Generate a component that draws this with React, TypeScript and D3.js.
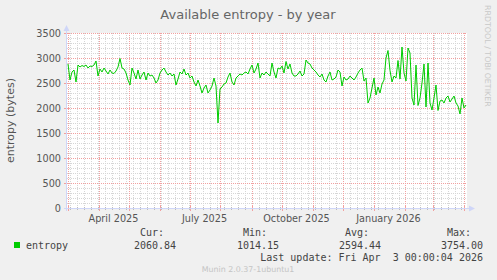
import React from "react";
import * as d3 from "d3";

const title = "Available entropy - by year";
const yAxisLabel = "entropy (bytes)";
const seriesName = "entropy";
const seriesStart = "2025-03-01T12:00:00Z";
const stepDays = 2;
const values = [
  2880, 2560, 2720, 2760, 2520, 2860, 2820, 2850, 2830, 2860,
  2800, 2840, 2830, 2860, 2940, 2640, 2780, 2720, 2800, 2740,
  2680, 2760, 2700, 2690, 2740, 2820, 2990, 2800, 2780, 2700,
  2560, 2460, 2800, 2700, 2580, 2760, 2580, 2660, 2720, 2560,
  2700, 2640, 2660, 2600, 2500, 2560, 2700, 2760, 2800, 2720,
  2660, 2700, 2640, 2680, 2460, 2580, 2720, 2680, 2780, 2660,
  2700, 2600, 2640, 2520, 2440, 2560, 2440, 2300, 2400, 2460,
  2300, 2360, 2440, 2600, 2440, 1700, 2380, 2420, 2480, 2500,
  2620, 2700, 2520, 2460, 2600, 2640, 2680, 2660, 2700, 2720,
  2680, 2780, 2860, 2700, 2780, 2900, 2600, 2700, 2660, 2720,
  2680, 2640, 2900, 2720, 2600, 2800, 2780, 2840, 2700, 2930,
  2780, 2880, 2700, 2640, 2640, 2680, 2740, 2640, 2680, 2960,
  2900, 2880, 2800, 2760, 2720, 2660, 2620, 2680, 2560, 2520,
  2640, 2720, 2560, 2580, 2620, 2760, 2720, 2440, 2620, 2560,
  2580, 2640, 2600, 2560, 2620, 2700, 2760, 2800, 2540, 2600,
  2100, 2200, 2400, 2600, 2260, 2420, 2300, 2480, 2560, 3000,
  3150, 2750, 2520, 2640, 2600, 2950, 2580, 3220, 2700, 2540,
  3200, 3100, 2200, 2060, 2860, 2050, 2200, 2500, 2880, 2020,
  2900, 2100, 1960, 2200, 2460, 1950, 2140, 2160, 2100, 2200,
  2240, 2120, 2180, 2240, 2100, 2040, 1880, 2200, 2000, 2060,
];
const domainStart = "2025-02-28T12:00:00Z";
const domainEnd = "2026-04-04T12:00:00Z";
const yTicks = [0, 500, 1000, 1500, 2000, 2500, 3000, 3500];
const yMax = 3500;
const xLabelMonths = ["2025-04-01", "2025-07-01", "2025-10-01", "2026-01-01"];
const xLabels = ["April 2025", "July 2025", "October 2025", "January 2026"];
const legendHeaders = ["Cur:", "Min:", "Avg:", "Max:"];
const legendValues = ["2060.84", "1014.15", "2594.44", "3754.00"];
const lastUpdate = "Last update: Fri Apr  3 00:00:04 2026";
const watermark = "Munin 2.0.37-1ubuntu1";
const sideText = "RRDTOOL / TOBI OETIKER";

const W = 497, H = 280;
const L = 67, R = 467, T = 33, B = 208;

export default function App() {
  const x = d3.scaleUtc().domain([new Date(domainStart), new Date(domainEnd)]).range([L, R]);
  const y = d3.scaleLinear().domain([0, yMax]).range([B, T]);
  const t0 = new Date(seriesStart).getTime();
  const pts = values.map((v, i) => ({ d: new Date(t0 + i * stepDays * 86400000), v }));
  const line = d3.line<{ d: Date; v: number }>().x((p) => x(p.d)).y((p) => y(p.v));

  const [d0, d1] = x.domain();
  const months = d3.utcMonth.range(d0, d1);
  const weeks = d3.utcMonday.range(d0, d1);
  const minorY = d3.range(0, yMax + 1, 100).filter((v) => v % 500 !== 0);

  const major = "#F2A0A0";
  const minor = "#D6D6D6";
  const axis = "#CFD6F8";
  const font = "DejaVu Sans, sans-serif";
  const mono = "DejaVu Sans Mono, monospace";

  const legendX = [134, 237, 339, 441];
  const headerX = [140, 243, 345, 447];

  return (
    <svg width={W} height={H} style={{ display: "block" }}>
      <style>{"body{margin:0}"}</style>
      <rect x={0} y={0} width={W} height={H} fill="#F0F0F0" />
      <rect x={L} y={T} width={R - L} height={B - T} fill="#FFFFFF" />
      {/* minor grid */}
      {minorY.map((v) => (
        <line key={"my" + v} x1={L} x2={R} y1={Math.round(y(v)) + 0.5} y2={Math.round(y(v)) + 0.5}
          stroke={minor} strokeDasharray="1,1" />
      ))}
      {weeks.map((w) => (
        <line key={"wx" + w.getTime()} x1={Math.round(x(w)) + 0.5} x2={Math.round(x(w)) + 0.5} y1={T} y2={B}
          stroke={minor} strokeDasharray="1,1" />
      ))}
      {weeks.map((w) => (
        <line key={"wt" + w.getTime()} x1={Math.round(x(w)) + 0.5} x2={Math.round(x(w)) + 0.5} y1={B - 1} y2={B + 2}
          stroke="#BBBBBB" />
      ))}
      {/* major grid */}
      {yTicks.filter((v) => v > 0).map((v) => (
        <line key={"My" + v} x1={L} x2={R} y1={Math.round(y(v)) + 0.5} y2={Math.round(y(v)) + 0.5}
          stroke={major} strokeDasharray="1,1" />
      ))}
      {months.map((m) => (
        <line key={"Mx" + m.getTime()} x1={Math.round(x(m)) + 0.5} x2={Math.round(x(m)) + 0.5} y1={T} y2={B}
          stroke={major} strokeDasharray="1,1" />
      ))}
      {months.map((m) => (
        <line key={"Mt" + m.getTime()} x1={Math.round(x(m)) + 0.5} x2={Math.round(x(m)) + 0.5} y1={B - 2} y2={B + 3}
          stroke={major} />
      ))}
      {yTicks.map((v) => (
        <line key={"yt" + v} x1={L - 3} x2={L + 2} y1={Math.round(y(v)) + 0.5} y2={Math.round(y(v)) + 0.5}
          stroke={major} />
      ))}
      {/* data */}
      <path d={line(pts) || ""} fill="none" stroke="#00CC00" strokeWidth={1} />
      {/* axes */}
      <line x1={L - 3} x2={R + 3} y1={B + 0.5} y2={B + 0.5} stroke={axis} />
      <line x1={L - 0.5} x2={L - 0.5} y1={B + 3} y2={T - 3} stroke={axis} />
      <path d={`M${R + 2},${B - 2.5} L${R + 8},${B + 0.5} L${R + 2},${B + 3.5} Z`} fill={axis} />
      <path d={`M${L - 3.5},${T - 2} L${L - 0.5},${T - 8} L${L + 2.5},${T - 2} Z`} fill={axis} />
      {/* y labels */}
      {yTicks.map((v) => (
        <text key={"yl" + v} x={61} y={y(v)} textAnchor="end" dominantBaseline="central"
          fontFamily={font} fontSize={9.7} fill="#555">{v}</text>
      ))}
      {/* x labels */}
      {xLabelMonths.map((m, i) => (
        <text key={"xl" + m} x={x(new Date(new Date(m + "T00:00:00Z").getTime() + 15 * 86400000))} y={218}
          textAnchor="middle" dominantBaseline="central" fontFamily={font} fontSize={9.7} fill="#555">
          {xLabels[i]}
        </text>
      ))}
      {/* title */}
      <text x={248} y={14} textAnchor="middle" dominantBaseline="central" fontFamily={font} fontSize={13} fill="#666">
        {title}
      </text>
      <text transform={`translate(10.5,${(T + B) / 2}) rotate(-90)`} textAnchor="middle" dominantBaseline="central"
        fontFamily={font} fontSize={11} fill="#555">{yAxisLabel}</text>
      <text transform={`translate(487,5) rotate(90)`} textAnchor="start" dominantBaseline="central"
        fontFamily={font} fontSize={7.9} fill="#C8C8C8">{sideText}</text>
      {/* legend */}
      <rect x={14} y={242} width={6} height={6} fill="#00CC00" />
      <text x={26} y={245} dominantBaseline="central" fontFamily={mono} fontSize={10} fill="#444">{seriesName}</text>
      {legendHeaders.map((h, i) => (
        <text key={h} x={headerX[i]} y={232.5} dominantBaseline="central" fontFamily={mono} fontSize={10} fill="#444">{h}</text>
      ))}
      {legendValues.map((v, i) => (
        <text key={"lv" + i} x={legendX[i]} y={245} dominantBaseline="central" fontFamily={mono} fontSize={10} fill="#444">{v}</text>
      ))}
      <text x={483} y={257} textAnchor="end" dominantBaseline="central" fontFamily={mono} fontSize={10} fill="#444"
        style={{ whiteSpace: "pre" }}>{lastUpdate}</text>
      <text x={248} y={269.5} textAnchor="middle" dominantBaseline="central" fontFamily={font} fontSize={7.9} fill="#C4C4C4">
        {watermark}
      </text>
    </svg>
  );
}
